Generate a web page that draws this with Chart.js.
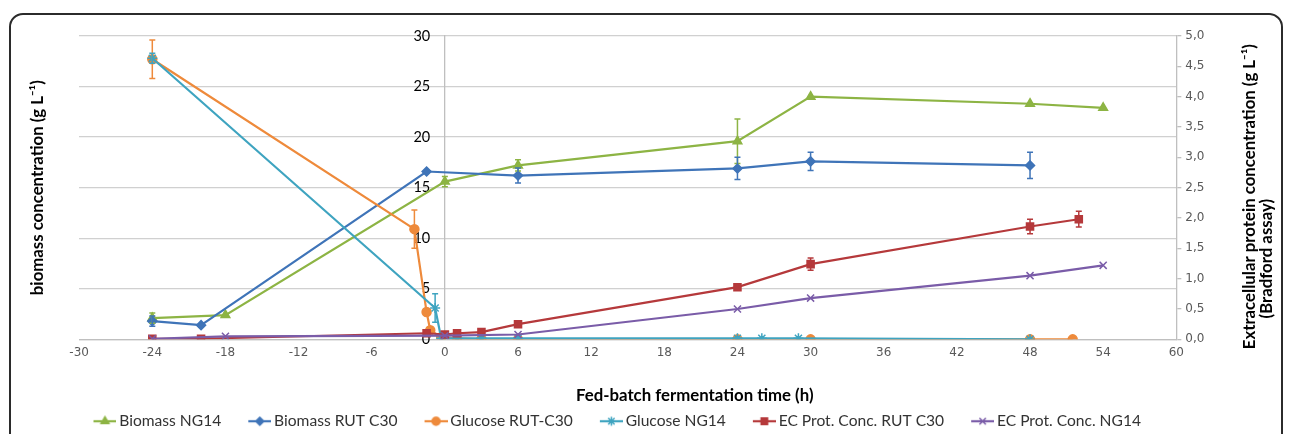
<!DOCTYPE html>
<html>
<head>
<meta charset="utf-8">
<script src="https://cdn.jsdelivr.net/npm/chart.js@4.4.1/dist/chart.umd.min.js"></script>
<style>
    html, body { margin: 0; padding: 0; background: #fff; }
    #wrap { position: relative; width: 1290px; height: 434px; overflow: hidden; }
    #frame { position: absolute; left: 9px; top: 13px; width: 1270px; height: 520px;
             border: 2px solid #2b2b2b; border-radius: 14px; }
    canvas { position: absolute; left: 0; top: 0; }
</style>
</head>
<body>
<div id="wrap">
    <div id="frame"></div>
    <canvas id="chart" width="1290" height="434"></canvas>
</div>
<script>
'use strict';

// --- data ---
const bioNG14Time = [-24, -18, 0, 6, 24, 30, 48, 54];
const bioNG14 = [2.1, 2.4, 15.6, 17.2, 19.6, 24.0, 23.3, 22.9];
const bioNG14Err = [0.5, null, 0.5, 0.55, 2.2, null, null, null];

const bioRUTTime = [-24, -20, -1.5, 6, 24, 30, 48];
const bioRUT = [1.8, 1.4, 16.6, 16.2, 16.9, 17.6, 17.2];
const bioRUTErr = [0.5, null, null, 0.75, 1.1, 0.9, 1.3];

const gluRUTTime = [-24, -2.5, -1.5, -1.2, -0.3, 1, 3, 6, 24, 30, 48, 51.5];
const gluRUT = [27.7, 10.9, 2.7, 0.9, 0.2, 0.1, 0, 0, 0, 0, 0, 0];
const gluRUTErr = [1.9, 1.9, null, null, null, null, null, null, null, null, null, null];

const gluNG14Time = [-24, -0.8, -0.3, 1, 3, 6, 24, 26, 29, 48];
const gluNG14 = [27.8, 3.1, 0.1, 0.1, 0.1, 0.1, 0.1, 0.1, 0.1, 0];
const gluNG14Err = [0.5, 1.4, null, null, null, null, null, null, null, null];

const protRUTTime = [-24, -20, -1.5, 0, 1, 3, 6, 24, 30, 48, 52];
const protRUT = [0.01, 0.01, 0.1, 0.08, 0.1, 0.12, 0.25, 0.86, 1.24, 1.86, 1.98];
const protRUTErr = [null, null, null, null, null, null, 0.04, 0.04, 0.1, 0.12, 0.13];

const protNG14Time = [-24, -18, 0, 6, 24, 30, 48, 54];
const protNG14 = [0.01, 0.05, 0.06, 0.08, 0.5, 0.68, 1.05, 1.22];

const seriesNames = ['Biomass NG14', 'Biomass RUT C30', 'Glucose RUT-C30', 'Glucose NG14',
    'EC Prot. Conc. RUT C30', 'EC Prot. Conc. NG14'];
const rightTicks = ['0,0', '0,5', '1,0', '1,5', '2,0', '2,5', '3,0', '3,5', '4,0', '4,5', '5,0'];
const xTitle = 'Fed-batch fermentation time (h)';
const rightTitle = ['Extracellular protein concentration (g L⁻¹)', '(Bradford assay)'];

const titleFont = { family: 'Lato', size: 16.8, weight: 'bold' };
const tickFont = { family: 'DejaVu Sans', size: 12 };

const points = (xs, ys) => xs.map((x, i) => ({ x, y: ys[i] }));

function makeSeries(index, xs, ys, errs, color, style, radius, axis) {
    return {
        label: seriesNames[index],
        data: points(xs, ys),
        errors: errs,
        yAxisID: axis,
        borderColor: color,
        backgroundColor: color,
        pointStyle: style,
        pointRadius: radius,
        pointHoverRadius: radius,
        pointBorderWidth: 1.5,
        borderWidth: 2.2,
        tension: 0,
        order: 10 - index
    };
}

const datasets = [
    makeSeries(0, bioNG14Time, bioNG14, bioNG14Err, '#8DB444', 'triangle', 5, 'y'),
    makeSeries(1, bioRUTTime, bioRUT, bioRUTErr, '#3F74B8', 'rectRot', 4.5, 'y'),
    makeSeries(2, gluRUTTime, gluRUT, gluRUTErr, '#EE8A3B', 'circle', 4.5, 'y'),
    makeSeries(3, gluNG14Time, gluNG14, gluNG14Err, '#3FA4C0', 'star', 5, 'y'),
    makeSeries(4, protRUTTime, protRUT, protRUTErr, '#B5393B', 'rect', 5, 'y2'),
    makeSeries(5, protNG14Time, protNG14, null, '#7A5CA8', 'crossRot', 5, 'y2')
];

// legend icon: short line with the marker in the middle (image wider than the box on purpose)
function legendIcon(ds) {
    const c = document.createElement('canvas');
    c.width = 51;
    c.height = 14;
    const g = c.getContext('2d');
    g.strokeStyle = ds.borderColor;
    g.fillStyle = ds.backgroundColor;
    g.lineWidth = 2.2;
    g.beginPath();
    g.moveTo(28, 7);
    g.lineTo(51, 7);
    g.stroke();
    if (Chart.helpers && Chart.helpers.drawPoint) {
        g.lineWidth = 1.5;
        Chart.helpers.drawPoint(g, { pointStyle: ds.pointStyle, radius: ds.pointRadius - 0.5, rotation: 0, borderWidth: 1.5 }, 39.5, 7);
    }
    return c;
}
const icons = datasets.map(legendIcon);

const errorBars = {
    id: 'errorBars',
    afterDatasetsDraw(chart) {
        const ctx = chart.ctx;
        chart.data.datasets.forEach((ds, i) => {
            if (!ds.errors) return;
            const meta = chart.getDatasetMeta(i);
            const yScale = chart.scales[ds.yAxisID];
            ctx.save();
            ctx.strokeStyle = ds.borderColor;
            ctx.lineWidth = 1.5;
            meta.data.forEach((pt, j) => {
                const e = ds.errors[j];
                if (e == null) return;
                const v = ds.data[j].y;
                const top = yScale.getPixelForValue(v + e);
                const bot = yScale.getPixelForValue(v - e);
                ctx.beginPath();
                ctx.moveTo(pt.x, top);
                ctx.lineTo(pt.x, bot);
                ctx.moveTo(pt.x - 3, top);
                ctx.lineTo(pt.x + 3, top);
                ctx.moveTo(pt.x - 3, bot);
                ctx.lineTo(pt.x + 3, bot);
                ctx.stroke();
            });
            ctx.restore();
        });
    }
};

// the legend in the original sits a little left of the plot centre
const legendShift = {
    id: 'legendShift',
    afterLayout(chart) {
        const lg = chart.legend;
        const area = chart.chartArea;
        if (!lg) return;
        const dx = (area.left + area.right) / 2 - 22 - (lg.left + lg.right) / 2;
        lg.left += dx;
        lg.right += dx;
    }
};

// x title sits off-centre and the right title reads upwards, so draw both by hand
const customTitles = {
    id: 'customTitles',
    afterDraw(chart) {
        const xs = chart.scales.x;
        const y2 = chart.scales.y2;
        const area = chart.chartArea;
        const ctx = chart.ctx;
        ctx.save();
        ctx.font = `bold ${titleFont.size}px ${titleFont.family}`;
        ctx.fillStyle = '#000';
        ctx.textAlign = 'center';
        ctx.textBaseline = 'middle';
        ctx.fillText(xTitle, (area.left + area.right) / 2 + 67, xs.bottom - 4 - 10);

        const midY = (area.top + area.bottom) / 2;
        ctx.translate(y2.right - 32, midY + 9);
        ctx.rotate(-Math.PI / 2);
        ctx.fillText(rightTitle[0], 0, 0);
        ctx.fillText(rightTitle[1], -62, 16.5);
        ctx.restore();
    }
};

new Chart(document.getElementById('chart'), {
    type: 'line',
    data: { datasets },
    plugins: [errorBars, legendShift, customTitles],
    options: {
        responsive: false,
        animation: false,
        layout: { padding: { left: 20, right: 8, top: 36, bottom: -5 } },
        plugins: {
            tooltip: { enabled: false },
            legend: {
                position: 'bottom',
                labels: {
                    usePointStyle: true,
                    pointStyleWidth: 41,
                    padding: 4,
                    color: '#333',
                    font: { family: 'Lato', size: 15.6 },
                    sort: (a, b) => a.datasetIndex - b.datasetIndex,
                    generateLabels(chart) {
                        const items = Chart.defaults.plugins.legend.labels.generateLabels(chart);
                        items.forEach((it) => { it.pointStyle = icons[it.datasetIndex]; });
                        return items;
                    }
                }
            }
        },
        scales: {
            x: {
                type: 'linear',
                min: -30,
                max: 60,
                ticks: { stepSize: 6, font: tickFont, color: '#595959', padding: 6 },
                grid: { display: false, drawTicks: false },
                border: { color: '#bfbfbf', width: 1.3 },
                title: {
                    display: true,
                    text: xTitle,
                    color: 'rgba(0,0,0,0)',
                    font: titleFont,
                    padding: { top: 19.5, bottom: 4 }
                }
            },
            y: {
                position: 'left',
                min: 0,
                max: 30,
                ticks: { display: false, stepSize: 5 },
                grid: { color: '#d0d0d0', lineWidth: 1.3, drawTicks: false },
                border: { display: false },
                title: {
                    display: true,
                    text: 'biomass concentration (g L⁻¹)',
                    color: '#000',
                    font: titleFont,
                    padding: { top: 8, bottom: 31 }
                }
            },
            // vertical axis line crossing at time 0
            yIn: {
                axis: 'y',
                position: { x: 0 },
                min: 0,
                max: 30,
                ticks: { display: false, stepSize: 5 },
                grid: { display: false },
                border: { color: '#bfbfbf', width: 1.3 }
            },
            // its labels, set a little to the left of the line
            yLab: {
                axis: 'y',
                position: { x: -1.2 },
                min: 0,
                max: 30,
                ticks: { stepSize: 5, font: { family: 'Lato', size: 14.5 }, color: '#000' },
                grid: { display: false },
                border: { display: false }
            },
            y2: {
                position: 'right',
                min: 0,
                max: 5,
                ticks: {
                    stepSize: 0.5,
                    font: tickFont,
                    color: '#595959',
                    padding: 4,
                    callback: (v, i) => rightTicks[i]
                },
                grid: { drawOnChartArea: false, color: '#bfbfbf', tickLength: 5, lineWidth: 1.3 },
                border: { color: '#bfbfbf', width: 1.3 },
                title: {
                    display: true,
                    text: rightTitle,
                    color: 'rgba(0,0,0,0)',
                    font: { family: 'Lato', size: 16.8, weight: 'bold', lineHeight: 1 },
                    padding: { top: 36, bottom: 4 }
                }
            }
        }
    }
});
</script>
</body>
</html>
